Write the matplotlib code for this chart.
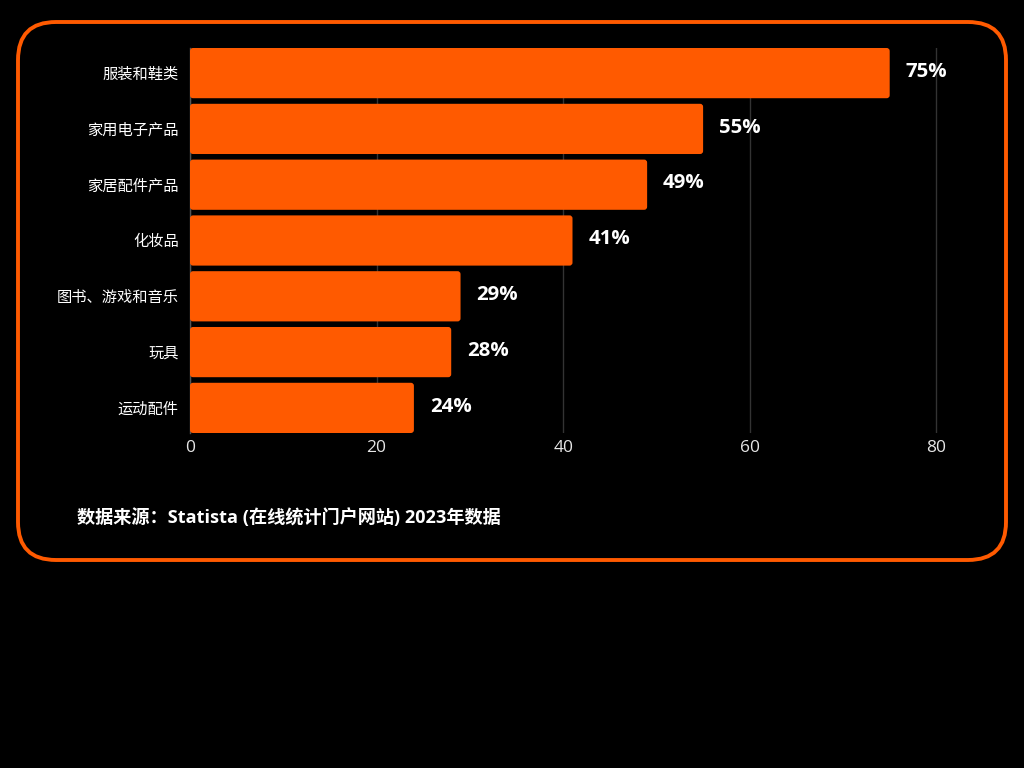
import matplotlib
matplotlib.use("Agg")
import matplotlib.pyplot as plt
from matplotlib.patches import FancyBboxPatch
from matplotlib.transforms import IdentityTransform

categories = ["服装和鞋类", "家用电子产品", "家居配件产品", "化妆品", "图书、游戏和音乐", "玩具", "运动配件"]
values = [75, 55, 49, 41, 29, 28, 24]
xticks = [0, 20, 40, 60, 80]
source = "数据来源：Statista (在线统计门户网站) 2023年数据"

ORANGE = "#FF5A00"
FONT = ["Open Sans", "Noto Sans CJK SC", "DejaVu Sans"]
plt.rcParams['font.family'] = FONT

W, H = 1024, 768
fig = plt.figure(figsize=(W / 100, H / 100), dpi=100)
fig.patch.set_facecolor("black")

# rounded border
border = FancyBboxPatch((18, H - 560), 988, 538,
                        boxstyle="round,pad=0,rounding_size=38",
                        linewidth=2.8, edgecolor=ORANGE, facecolor="none",
                        transform=IdentityTransform(), figure=fig, zorder=-1)
fig.patches.append(border)

left, right = 190, 955
top, bottom = 48, 433
xmax = 82
ax = fig.add_axes([left / W, (H - bottom) / H, (right - left) / W, (bottom - top) / H])
ax.set_facecolor("none")

n = len(categories)
ypos = list(range(n))
bh = 0.9
bars = ax.barh(ypos, values, height=bh, color=ORANGE, zorder=3)
ax.set_ylim(n - 1 + bh / 2, -bh / 2)
ax.set_xlim(0, xmax)

# rounded-corner bars from the bar geometry
px_x = (right - left) / xmax
px_y = (bottom - top) / (n - 1 + bh)
r_px = 3.0
for b in bars:
    x0, y0, w, h = b.get_x(), b.get_y(), b.get_width(), b.get_height()
    b.set_visible(False)
    p = FancyBboxPatch((x0, y0), w, h,
                       boxstyle=f"round,pad=0,rounding_size={r_px / px_x}",
                       mutation_aspect=px_x / px_y,
                       facecolor=ORANGE, edgecolor="none", zorder=3)
    ax.add_patch(p)

for y, v in zip(ypos, values):
    ax.annotate(f"{v}%", xy=(v, y), xytext=(11.5, 1), textcoords="offset points",
                ha="left", va="center", color="white", fontsize=14.7,
                fontweight="bold", family=FONT)

ax.set_yticks(ypos)
ax.set_yticklabels(categories, color="white", fontsize=11)
ax.set_xticks(xticks)
ax.set_xticklabels([str(t) for t in xticks], color="#E6E6E6", fontsize=12.5)
ax.tick_params(axis="both", length=0, pad=8)
ax.tick_params(axis="x", pad=5)
ax.xaxis.grid(True, color="#333333", linewidth=1, zorder=0)
ax.set_axisbelow(True)
for s in ["top", "right", "bottom"]:
    ax.spines[s].set_visible(False)
ax.spines["left"].set_color("#555555")
ax.spines["left"].set_linewidth(1)

fig.text(77 / W, (H - 518) / H, source, color="white", fontsize=13.1,
         fontweight="bold", ha="left", va="center", family=FONT)

fig.savefig("out.png", dpi=100, facecolor="black")
